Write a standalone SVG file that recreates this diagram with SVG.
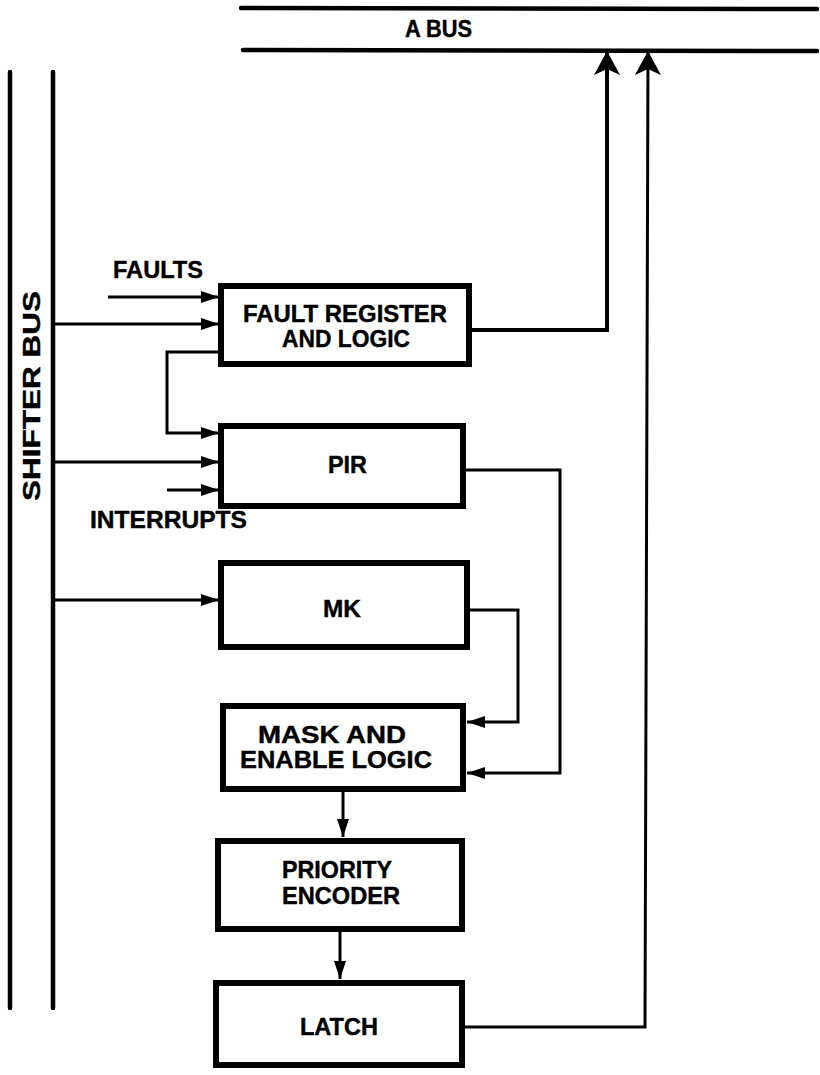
<svg xmlns="http://www.w3.org/2000/svg" width="820" height="1075" viewBox="0 0 820 1075">
<style>
.bus{stroke:#000;stroke-width:4.5;fill:none;stroke-linecap:round}
.box{fill:#fff;stroke:#000;stroke-width:6}
.ln{stroke:#000;stroke-width:3;fill:none}
.lt{stroke:#000;stroke-width:4;fill:none}
.t{font-family:"Liberation Sans",Arial,sans-serif;font-weight:bold;font-size:23px;fill:#000;stroke:#000;stroke-width:0.4}
</style>
<defs>
<marker id="ah" markerUnits="userSpaceOnUse" markerWidth="20" markerHeight="14" refX="18" refY="7" orient="auto">
<path d="M0,1 L18,7 L0,13 Z" fill="#000"/>
</marker>
<marker id="ahb" markerUnits="userSpaceOnUse" markerWidth="26" markerHeight="28" refX="24" refY="14" orient="auto">
<path d="M0,1 L24,14 L0,27 L6,14 Z" fill="#000"/>
</marker>
</defs>
<rect width="820" height="1075" fill="#fff"/>

<g id="abus">
<line class="bus" x1="241" y1="8" x2="817" y2="9"/>
<line class="bus" x1="243" y1="50" x2="817" y2="51"/>
<text class="t" x="405" y="37" textLength="67" lengthAdjust="spacingAndGlyphs">A BUS</text>
</g>

<g id="shifterbus">
<line class="bus" x1="10" y1="72" x2="10" y2="1008"/>
<line class="bus" x1="53" y1="72" x2="53" y2="1008"/>
<text class="t" transform="translate(40,396) rotate(-90)" text-anchor="middle" textLength="210" lengthAdjust="spacingAndGlyphs">SHIFTER BUS</text>
</g>

<g id="connectors">
<line class="ln" x1="108" y1="297" x2="219" y2="297" marker-end="url(#ah)"/>
<line class="ln" x1="53" y1="324" x2="219" y2="324" marker-end="url(#ah)"/>
<polyline class="ln" points="218,352 167,352 167,433 219,433" marker-end="url(#ah)"/>
<line class="ln" x1="53" y1="462" x2="219" y2="462" marker-end="url(#ah)"/>
<line class="ln" x1="167" y1="490" x2="219" y2="490" marker-end="url(#ah)"/>
<line class="ln" x1="53" y1="600" x2="219" y2="600" marker-end="url(#ah)"/>
<polyline class="ln" points="466,470 560,470 560,773 467,773" marker-end="url(#ah)"/>
<polyline class="ln" points="470,610 518,610 518,722 467,722" marker-end="url(#ah)"/>
<polyline class="lt" points="472,330 607,330 607,51" marker-end="url(#ahb)"/>
<polyline class="ln" points="465,1027 645,1027 648,51" marker-end="url(#ahb)"/>
<line class="ln" x1="343" y1="792" x2="343" y2="837" marker-end="url(#ah)"/>
<line class="ln" x1="340" y1="932" x2="340" y2="979" marker-end="url(#ah)"/>
</g>

<text class="t" x="113" y="278" textLength="90" lengthAdjust="spacingAndGlyphs">FAULTS</text>
<text class="t" x="90" y="528" textLength="157" lengthAdjust="spacingAndGlyphs">INTERRUPTS</text>

<g id="fault">
<rect class="box" x="221" y="286" width="248" height="78"/>
<text class="t" x="243" y="322" textLength="204" lengthAdjust="spacingAndGlyphs">FAULT REGISTER</text>
<text class="t" x="282" y="347" textLength="128" lengthAdjust="spacingAndGlyphs">AND LOGIC</text>
</g>

<g id="pir">
<rect class="box" x="221" y="426" width="242" height="80"/>
<text class="t" x="328" y="473" textLength="39" lengthAdjust="spacingAndGlyphs">PIR</text>
</g>

<g id="mk">
<rect class="box" x="221" y="563" width="246" height="84"/>
<text class="t" x="323" y="617" textLength="38" lengthAdjust="spacingAndGlyphs">MK</text>
</g>

<g id="mask">
<rect class="box" x="223" y="706" width="240" height="83"/>
<text class="t" x="258" y="743" textLength="148" lengthAdjust="spacingAndGlyphs">MASK AND</text>
<text class="t" x="240" y="768" textLength="192" lengthAdjust="spacingAndGlyphs">ENABLE LOGIC</text>
</g>

<g id="priority">
<rect class="box" x="218" y="841" width="244" height="88"/>
<text class="t" x="282" y="878" textLength="110" lengthAdjust="spacingAndGlyphs">PRIORITY</text>
<text class="t" x="282" y="904" textLength="118" lengthAdjust="spacingAndGlyphs">ENCODER</text>
</g>

<g id="latch">
<rect class="box" x="216" y="983" width="246" height="82"/>
<text class="t" x="300" y="1035" textLength="78" lengthAdjust="spacingAndGlyphs">LATCH</text>
</g>
</svg>
